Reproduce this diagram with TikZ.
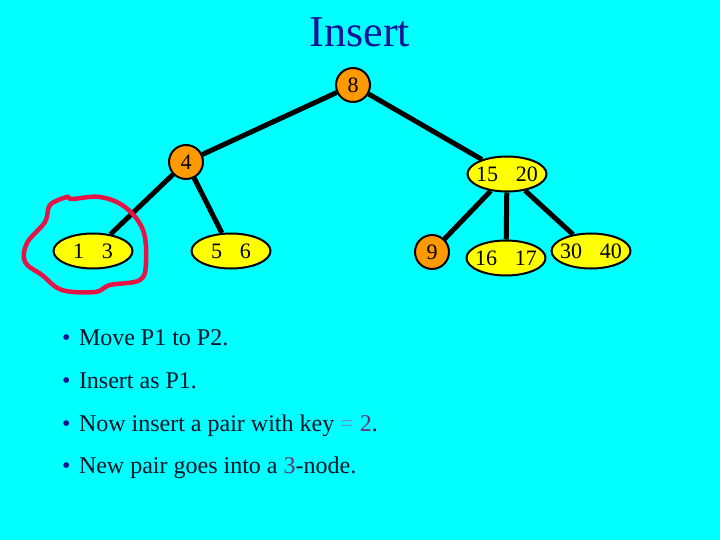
\documentclass[tikz,border=0pt]{standalone}
\usepackage{fontspec}
\setmainfont{Liberation Serif}
\usetikzlibrary{shapes.geometric}
\definecolor{bg}{RGB}{0,255,255}
\definecolor{orng}{RGB}{255,153,0}
\definecolor{yel}{RGB}{255,255,0}
\definecolor{navy}{RGB}{20,20,150}
\definecolor{txt}{RGB}{10,20,40}
\definecolor{loopred}{RGB}{230,20,70}
\definecolor{purp}{RGB}{110,50,110}
\definecolor{eqc}{RGB}{100,150,210}
\begin{document}
\begin{tikzpicture}[x=1pt,y=-1pt,
  circ/.style={circle,draw=black,line width=2pt,fill=orng,minimum size=34pt,inner sep=0pt,font=\fontsize{22}{22}\selectfont},
  ell/.style={ellipse,draw=black,line width=2pt,fill=yel,minimum width=79pt,minimum height=35pt,inner xsep=-6pt,inner ysep=0pt,font=\fontsize{22}{22}\selectfont},
  edge/.style={line width=5pt,black},
  bullet/.style={anchor=base west,font=\fontsize{24}{24}\selectfont,text=txt,inner sep=0pt}]
\fill[bg] (0,0) rectangle (720,540);
\useasboundingbox (0,0) rectangle (720,540);
\node[font=\fontsize{44}{44}\selectfont,text=navy,anchor=base,inner sep=0pt] (title) at (360,47) {Insert};
\node[circ] (n8) at (353,85) {8};
\node[circ] (n4) at (186,162) {4};
\node[ell] (n13) at (93,251) {1\hspace{0.8em}3};
\node[ell] (n56) at (231,251) {5\hspace{0.8em}6};
\node[ell] (n1520) at (507,174) {15\hspace{0.8em}20};
\node[circ] (n9) at (432,252) {9};
\node[ell] (n1617) at (506,258) {16\hspace{0.8em}17};
\node[ell] (n3040) at (591,251) {30\hspace{0.8em}40};
\draw[edge] (n8) -- (n4);
\draw[edge] (n8) -- (n1520);
\draw[edge] (n4) -- (n13);
\draw[edge] (n4) -- (n56);
\draw[edge] (n1520) -- (n9);
\draw[edge] (n1520) -- (n1617);
\draw[edge] (n1520) -- (n3040);
\draw[draw=loopred,line width=4.5pt,line join=round] plot[smooth cycle,tension=0.6] coordinates {
 (72,199) (100,197) (125,207) (143,230) (146,262) (140,280) (110,285) (95,292)
 (62,290) (42,275) (25,262) (27,243) (45,222) (50,205) (67,197)};
\node[bullet] (b1) at (62,345) {{\color{navy}\textbullet}\hspace{0.35em}Move P1 to P2.};
\node[bullet] (b2) at (62,388) {{\color{navy}\textbullet}\hspace{0.35em}Insert as P1.};
\node[bullet] (b3) at (62,431) {{\color{navy}\textbullet}\hspace{0.35em}Now insert a pair with key {\color{eqc}=} {\color{purp}2}.};
\node[bullet] (b4) at (62,473) {{\color{navy}\textbullet}\hspace{0.35em}New pair goes into a {\color{purp}3}-node.};
\end{tikzpicture}
\end{document}
